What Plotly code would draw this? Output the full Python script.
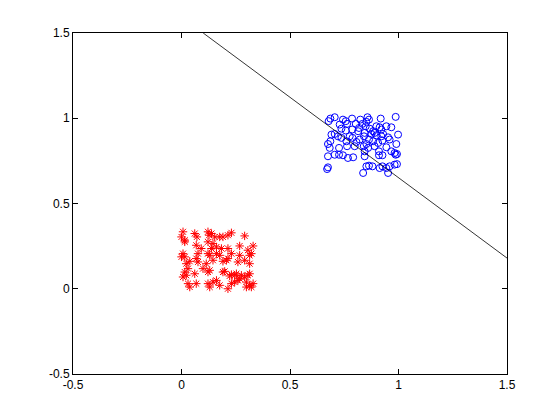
import plotly.graph_objects as go

# Blue cluster (circles)
blue_x = [0.686, 0.678, 0.706, 0.744, 0.757, 0.786, 0.824, 0.857, 0.864, 0.918, 0.987, 0.852,
          0.729, 0.737, 0.763, 0.803, 0.818, 0.834, 0.849, 0.898, 0.913, 0.921, 0.944, 0.967, 0.890,
          0.691, 0.706, 0.721, 0.775, 0.788, 0.814, 0.844, 0.875, 0.883, 0.898, 0.921, 0.952, 0.998, 0.841,
          0.675, 0.686, 0.737, 0.760, 0.806, 0.821, 0.864, 0.883, 0.906, 0.926, 0.959, 0.990, 0.852,
          0.683, 0.726, 0.763, 0.798, 0.840, 0.860, 0.890, 0.944, 0.844, 0.910, 0.967,
          0.706, 0.726, 0.744, 0.767, 0.791, 0.844, 0.910, 0.926, 0.982, 0.993, 0.675, 0.987,
          0.675, 0.671, 0.852, 0.864, 0.880, 0.926, 0.944, 0.959, 0.982, 0.993, 0.837, 0.913, 0.952,
          0.757, 0.787, 0.867, 0.929]
blue_y = [0.998, 0.983, 1.006, 0.992, 0.983, 0.998, 0.992, 1.006, 0.992, 0.998, 1.008, 0.979,
          0.963, 0.939, 0.967, 0.967, 0.943, 0.967, 0.953, 0.953, 0.947, 0.934, 0.953, 0.947, 0.914,
          0.904, 0.908, 0.894, 0.894, 0.885, 0.924, 0.914, 0.908, 0.924, 0.900, 0.894, 0.888, 0.904, 0.894,
          0.849, 0.865, 0.885, 0.865, 0.861, 0.875, 0.875, 0.865, 0.855, 0.869, 0.875, 0.849, 0.849,
          0.826, 0.826, 0.836, 0.836, 0.836, 0.826, 0.836, 0.830, 0.806, 0.806, 0.806,
          0.786, 0.786, 0.783, 0.767, 0.771, 0.777, 0.783, 0.783, 0.796, 0.790, 0.777, 0.786,
          0.712, 0.702, 0.718, 0.722, 0.718, 0.718, 0.708, 0.718, 0.728, 0.731, 0.679, 0.708, 0.679,
          0.928, 0.934, 0.939, 0.908]

# Red cluster (stars)
red_x = [0.007, 0.000, 0.015, 0.061, 0.071, 0.122, 0.127, 0.138, 0.153, 0.176, 0.191, 0.214, 0.230, 0.291,
         0.015, 0.068, 0.091, 0.122, 0.145, 0.161, 0.138, 0.184, 0.214, 0.268, 0.330, 0.306,
         0.007, 0.015, 0.000, 0.076, 0.068, 0.122, 0.130, 0.161, 0.176, 0.230, 0.268, 0.314, 0.322,
         0.038, 0.022, 0.030, 0.076, 0.114, 0.145, 0.191, 0.207, 0.214, 0.260, 0.314, 0.291,
         0.015, 0.022, 0.007, 0.061, 0.099, 0.122, 0.130, 0.191, 0.199, 0.245, 0.253, 0.276, 0.291,
         0.306, 0.314, 0.222, 0.230,
         0.030, 0.068, 0.122, 0.145, 0.161, 0.176, 0.230, 0.245, 0.260, 0.299, 0.314, 0.330, 0.268,
         0.038, 0.130, 0.214, 0.299, 0.322]
red_y = [0.334, 0.304, 0.285, 0.324, 0.304, 0.334, 0.314, 0.324, 0.304, 0.304, 0.304, 0.314, 0.328, 0.310,
         0.275, 0.255, 0.236, 0.275, 0.265, 0.245, 0.236, 0.236, 0.236, 0.251, 0.251, 0.226,
         0.206, 0.187, 0.187, 0.206, 0.177, 0.206, 0.196, 0.206, 0.196, 0.206, 0.196, 0.196, 0.206,
         0.161, 0.147, 0.118, 0.157, 0.147, 0.167, 0.161, 0.167, 0.177, 0.157, 0.147, 0.167,
         0.098, 0.079, 0.069, 0.088, 0.118, 0.098, 0.108, 0.098, 0.102, 0.079, 0.088, 0.079, 0.069,
         0.079, 0.088, 0.075, 0.083,
         0.030, 0.030, 0.030, 0.039, 0.049, 0.020, 0.030, 0.039, 0.049, 0.039, 0.020, 0.030, 0.059,
         0.010, 0.010, 0.000, 0.010, 0.010]

# Separating line
line_x = [0.1, 1.5]
line_y = [1.5, 0.18]

tick_vals = [-0.5, 0, 0.5, 1, 1.5]
tick_text = ["-0.5", "0", "0.5", "1", "1.5"]

fig = go.Figure()
fig.add_trace(go.Scatter(x=red_x, y=red_y, mode="markers",
                         marker=dict(symbol="asterisk-open", size=7,
                                     line=dict(color="#ff0000", width=1), color="#ff0000"),
                         showlegend=False))
fig.add_trace(go.Scatter(x=blue_x, y=blue_y, mode="markers",
                         marker=dict(symbol="circle-open", size=7,
                                     line=dict(color="#0000ff", width=1), color="#0000ff"),
                         showlegend=False))
fig.add_trace(go.Scatter(x=line_x, y=line_y, mode="lines",
                         line=dict(color="black", width=0.8), showlegend=False))

axis_common = dict(showgrid=False, zeroline=False, showline=True, linecolor="black",
                   linewidth=1, mirror="ticks", ticks="inside", ticklen=5, tickcolor="black",
                   tickvals=tick_vals, ticktext=tick_text,
                   tickfont=dict(family="Liberation Sans, Arial, sans-serif", size=12, color="black"))

fig.update_xaxes(range=[-0.5, 1.5], **axis_common)
fig.update_yaxes(range=[-0.5, 1.5], **axis_common)

fig.update_layout(width=560, height=420,
                  margin=dict(l=65, r=61, t=25, b=54, pad=0),
                  paper_bgcolor="white", plot_bgcolor="white")

fig.write_html("out.html")
